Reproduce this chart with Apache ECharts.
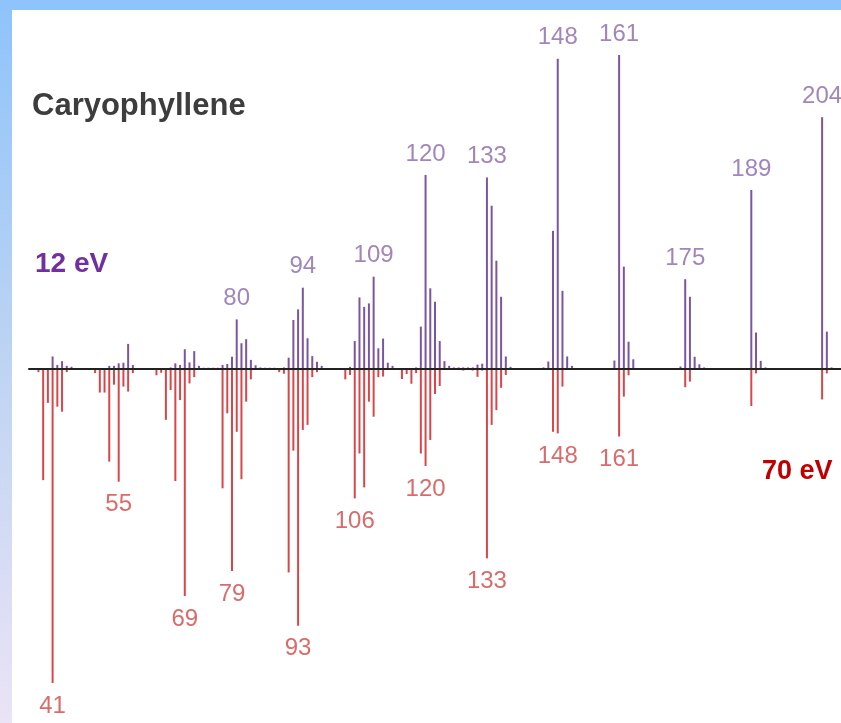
<!DOCTYPE html>
<html>
<head>
<meta charset="utf-8">
<title>Caryophyllene</title>
<script src="https://cdn.jsdelivr.net/npm/echarts@6/dist/echarts.min.js"></script>
<style>
  html, body { margin: 0; padding: 0; }
  body {
    width: 841px; height: 723px; overflow: hidden; position: relative;
    background: linear-gradient(to bottom, #8ec3fb 0%, #b9d2f3 45%, #ebe3f6 100%);
  }
  #panel { position: absolute; left: 12px; top: 10px; right: 0; bottom: 0; background: #fff; }
  #main { position: absolute; left: 0; top: 0; width: 841px; height: 723px; }
</style>
</head>
<body>
<div id="panel"></div>
<div id="main"></div>
<script>
// 12 eV spectrum, [m/z, relative intensity %]
var spec12 = [
  [41, 4], [42, 1.3], [43, 2.5], [44, 1], [45, 0.7],
  [53, 1], [54, 1], [55, 1.8], [56, 2], [57, 8], [58, 1.3],
  [66, 0.5], [67, 1.8], [68, 1.3], [69, 6.3], [70, 2.1], [71, 5.7], [72, 1],
  [73, 0.4], [74, 0.4], [75, 0.4], [76, 0.4],
  [77, 1.3], [78, 1.6], [79, 3.9], [80, 15.8], [81, 8.2], [82, 9.5], [83, 2.9], [84, 1.2], [85, 0.5],
  [86, 0.4], [87, 0.4], [88, 0.4],
  [90, 0.5], [91, 3.6], [92, 15.6], [93, 19], [94, 25.9], [95, 9.8], [96, 4.1], [97, 2.3], [98, 1],
  [99, 0.3], [100, 0.3], [101, 0.3], [102, 0.3],
  [104, 0.7], [105, 8.9], [106, 22.8], [107, 19.8], [108, 20.9], [109, 29.4], [110, 6.6], [111, 9.7], [112, 2], [113, 1],
  [118, 0.5], [119, 13.5], [120, 61.8], [121, 25.7], [122, 21.4], [123, 8.9], [124, 2.5], [125, 1],
  [126, 0.5], [127, 0.5], [128, 0.5], [129, 0.5], [130, 0.5],
  [131, 1.4], [132, 1.7], [133, 61], [134, 52], [135, 34.5], [136, 23], [137, 4], [138, 0.7],
  [145, 0.5], [146, 2.4], [147, 44], [148, 98.8], [149, 24.9], [150, 4], [151, 1],
  [160, 2.7], [161, 100], [162, 32.6], [163, 8.7], [164, 3.1],
  [174, 0.8], [175, 28.6], [176, 23], [177, 3.9], [178, 1.5], [179, 0.5],
  [189, 57], [190, 11.6], [191, 2.6], [192, 0.5],
  [204, 80.2], [205, 11.9], [206, 0.5]
];

// 70 eV spectrum, [m/z, relative intensity %] (drawn downwards)
var spec70 = [
  [38, 1], [39, 35.4], [40, 10.8], [41, 100], [42, 12], [43, 13.6], [44, 1],
  [50, 1.3], [51, 7.5], [52, 7.5], [53, 29.5], [54, 5], [55, 35.9], [56, 5.6], [57, 7.2], [58, 1.3],
  [63, 2], [64, 1.2], [65, 16.2], [66, 6.7], [67, 35.7], [68, 9.9], [69, 72.3], [70, 4.6], [71, 2.6],
  [77, 38], [78, 14.1], [79, 64.3], [80, 20], [81, 35.1], [82, 10.4], [83, 3.3],
  [89, 1], [90, 1.5], [91, 64.8], [92, 26], [93, 81.8], [94, 19.4], [95, 17.8], [96, 2.6], [97, 1],
  [103, 3.3], [104, 1.9], [105, 41.2], [106, 26.9], [107, 37.7], [108, 10.4], [109, 15.2], [110, 2.6], [111, 2.4],
  [115, 3.2], [116, 1.6], [117, 4.7], [118, 1.3], [119, 26.9], [120, 30.9], [121, 22.6], [122, 8], [123, 5.4],
  [128, 0.5], [130, 0.5], [131, 2.5], [132, 0.5], [133, 60.3], [134, 17.8], [135, 13.1], [136, 6], [137, 1.9],
  [147, 20], [148, 20.5], [149, 5.6],
  [161, 21.5], [162, 8.8], [163, 2],
  [175, 5.8], [176, 4],
  [189, 11.8], [190, 1.4],
  [204, 9.7], [205, 1.4]
];

// peak labels, [m/z, text]
var labels12 = [[80, '80'], [94, '94'], [109, '109'], [120, '120'], [133, '133'],
  [148, '148'], [161, '161'], [175, '175'], [189, '189'], [204, '204']];
var labels70 = [[41, '41'], [55, '55'], [69, '69'], [79, '79'], [93, '93'], [105, '106'],
  [120, '120'], [133, '133'], [148, '148'], [161, '161']];

var mzMin = 36, mzMax = 208;

var purple = '#7d559f';
var red = '#d9464a';

function lookup(spec, mz) {
  for (var i = 0; i < spec.length; i++) {
    if (spec[i][0] === mz) return spec[i][1];
  }
  return 0;
}

// one vertical stick per m/z, from the baseline to the intensity
function stick(params, api) {
  var p0 = api.coord([api.value(0), 0]);
  var p1 = api.coord([api.value(0), api.value(1)]);
  return {
    type: 'line',
    shape: { x1: p0[0], y1: p0[1], x2: p1[0], y2: p1[1] },
    style: { stroke: api.visual('color'), lineWidth: 2 }
  };
}

var up = spec12.map(function (d) { return [d[0], d[1]]; });
var down = spec70.map(function (d) { return [d[0], -d[1]]; });
var upLabels = labels12.map(function (l) { return { name: l[1], value: [l[0], lookup(spec12, l[0])] }; });
var downLabels = labels70.map(function (l) { return { name: l[1], value: [l[0], -lookup(spec70, l[0])] }; });

var myChart = echarts.init(document.getElementById('main'));

var option = {
  animation: false,
  backgroundColor: 'transparent',
  grid: { left: 29, right: 0, top: 55, bottom: 40 },
  xAxis: {
    type: 'value', min: mzMin, max: mzMax, z: 10,
    axisLine: { show: true, onZero: true, lineStyle: { color: '#222', width: 2 } },
    axisTick: { show: false }, axisLabel: { show: false }, splitLine: { show: false }
  },
  yAxis: { type: 'value', min: -100, max: 100, show: false },
  graphic: [
    { type: 'text', left: 32, top: 91, style: { text: 'Caryophyllene', fill: '#3d3d3d',
      font: 'bold 31px "Liberation Sans", Arial, sans-serif' } },
    { type: 'text', left: 35, top: 250, style: { text: '12 eV', fill: '#7030a0',
      font: 'bold 28px "Liberation Sans", Arial, sans-serif' } },
    { type: 'text', left: 762, top: 458, style: { text: '70 eV', fill: '#c00000',
      font: 'bold 27px "Liberation Sans", Arial, sans-serif' } }
  ],
  series: [
    { type: 'custom', name: '12 eV', renderItem: stick, data: up, itemStyle: { color: purple } },
    { type: 'custom', name: '70 eV', renderItem: stick, data: down, itemStyle: { color: red } },
    {
      type: 'scatter', symbolSize: 0, data: upLabels,
      label: { show: true, position: 'top', distance: 9, formatter: '{b}', color: '#8a68ab',
        fontSize: 24, fontFamily: '"Liberation Sans", Arial, sans-serif' }
    },
    {
      type: 'scatter', symbolSize: 0, data: downLabels,
      label: { show: true, position: 'bottom', distance: 11, formatter: '{b}', color: '#cf4646',
        fontSize: 24, fontFamily: '"Liberation Sans", Arial, sans-serif' }
    }
  ]
};

myChart.setOption(option);
</script>
</body>
</html>
